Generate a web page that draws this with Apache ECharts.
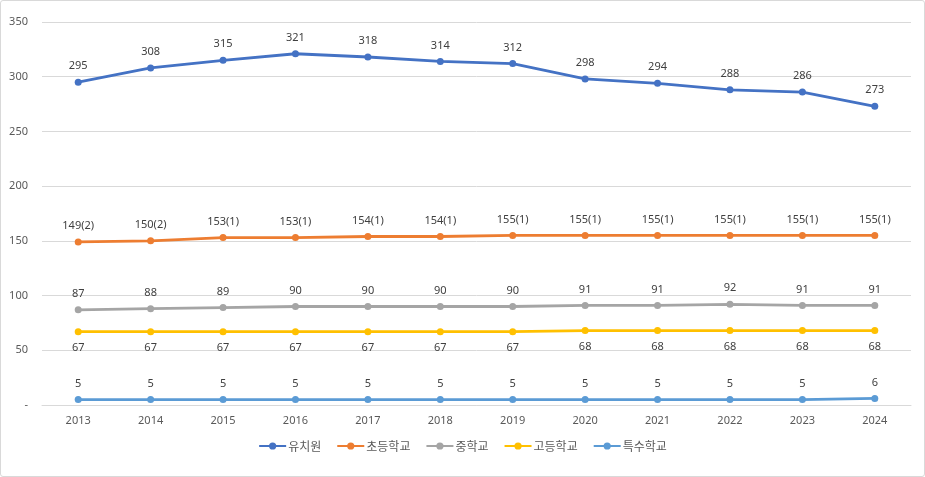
<!DOCTYPE html>
<html>
<head>
<meta charset="utf-8">
<script src="https://cdn.jsdelivr.net/npm/echarts@6/dist/echarts.min.js"></script>
<style>
html,body{margin:0;padding:0;background:#fff;}
#wrap{position:absolute;left:0;top:0;width:923px;height:475px;border:1px solid #d9d9d9;border-radius:3px;}
#chart{width:925px;height:477px;position:absolute;left:0;top:0;}
</style>
</head>
<body>
<div id="wrap"></div>
<div id="chart"></div>
<script>
var categories = ['2013','2014','2015','2016','2017','2018','2019','2020','2021','2022','2023','2024'];
var kindergarten = [295,308,315,321,318,314,312,298,294,288,286,273];
var elementary = [149,150,153,153,154,154,155,155,155,155,155,155];
var elementaryLabels = ['149(2)','150(2)','153(1)','153(1)','154(1)','154(1)','155(1)','155(1)','155(1)','155(1)','155(1)','155(1)'];
var middle = [87,88,89,90,90,90,90,91,91,92,91,91];
var high = [67,67,67,67,67,67,67,68,68,68,68,68];
var special = [5,5,5,5,5,5,5,5,5,5,5,6];
var seriesNames = ['유치원','초등학교','중학교','고등학교','특수학교'];
var colors = ['#4472C4','#ED7D31','#A5A5A5','#FFC000','#5B9BD5'];

var chart = echarts.init(document.getElementById('chart'));
var numFont = '"Noto Sans", sans-serif';
function mk(name, data, color, pos, fmt) {
  return {
    name: name, type: 'line', data: data,
    symbol: 'circle', symbolSize: 7,
    lineStyle: {width: 2.8, color: color},
    itemStyle: {color: color},
    label: {
      show: true, position: pos, distance: 7,
      color: '#404040', fontSize: 11, fontFamily: numFont,
      formatter: fmt || '{c}'
    },
    z: 3
  };
}
chart.setOption({
  animation: false,
  color: colors,
  grid: {left: 42, right: 14, top: 22, bottom: 72, containLabel: false},
  xAxis: {
    type: 'category', data: categories, boundaryGap: true,
    axisLine: {lineStyle: {color: '#d9d9d9'}},
    axisTick: {show: false},
    axisLabel: {color: '#595959', fontSize: 11, fontFamily: numFont, margin: 10}
  },
  yAxis: {
    type: 'value', min: 0, max: 350, interval: 50,
    axisLine: {show: false}, axisTick: {show: false},
    splitLine: {lineStyle: {color: '#d9d9d9'}},
    axisLabel: {
      color: '#595959', fontSize: 11, fontFamily: numFont, margin: 14,
      formatter: function(v){ return v === 0 ? '-' : v; }
    }
  },
  legend: {
    bottom: 20, left: 'center', itemWidth: 27, itemHeight: 9, itemGap: 15,
    textStyle: {color: '#595959', fontSize: 12, fontFamily: '"Noto Sans CJK KR", sans-serif', padding: [0,0,0,-3]},
    data: seriesNames
  },
  series: [
    mk(seriesNames[0], kindergarten, colors[0], 'top'),
    mk(seriesNames[1], elementary, colors[1], 'top', function(p){ return elementaryLabels[p.dataIndex]; }),
    mk(seriesNames[2], middle, colors[2], 'top'),
    mk(seriesNames[3], high, colors[3], 'bottom'),
    mk(seriesNames[4], special, colors[4], 'top')
  ]
});
</script>
</body>
</html>
